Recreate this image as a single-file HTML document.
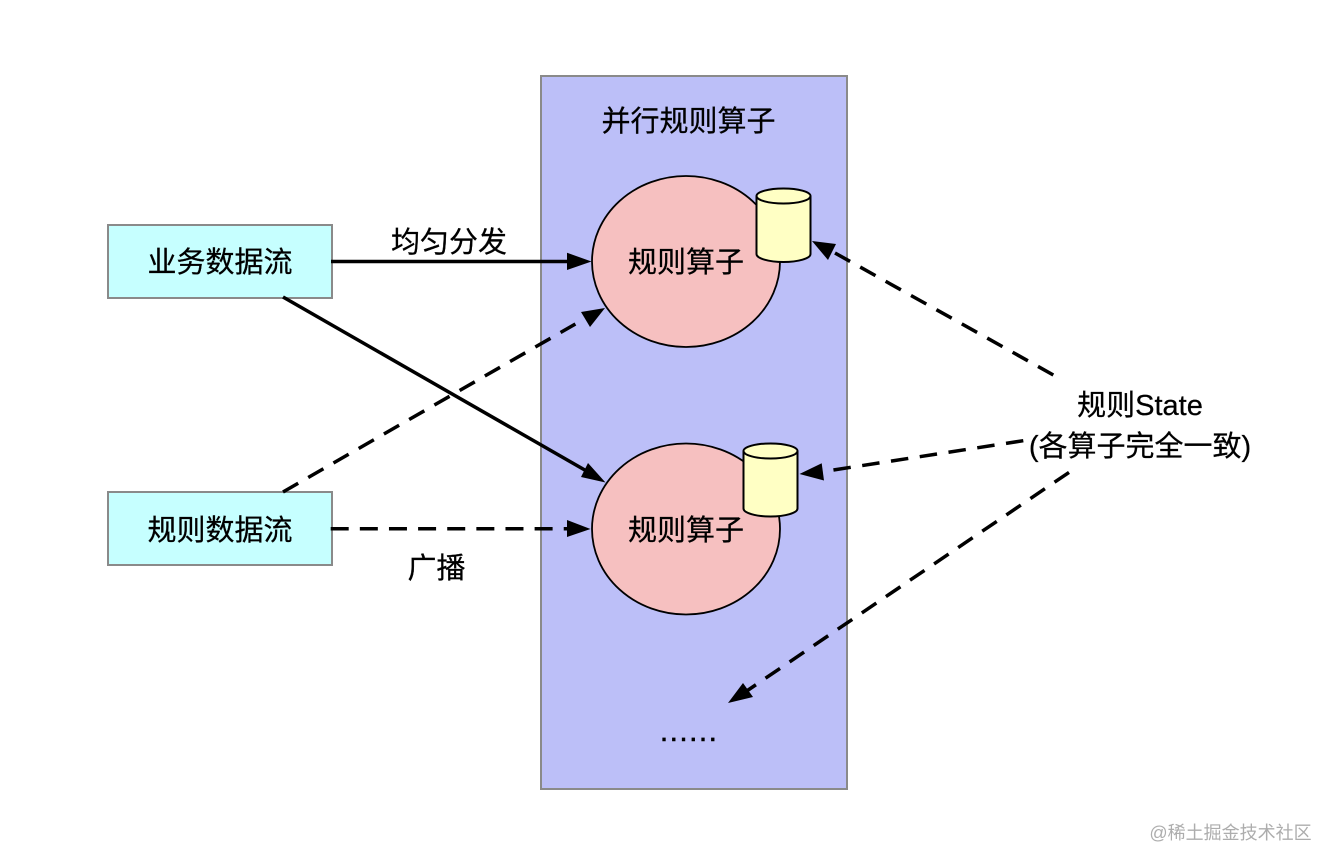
<!DOCTYPE html>
<html lang="zh">
<head>
<meta charset="utf-8">
<title>并行规则算子</title>
<style>
html,body{margin:0;padding:0;background:#fff;width:1334px;height:866px;overflow:hidden}
svg{display:block;filter:blur(0.35px)}
text{font-family:"Liberation Sans","Noto Sans CJK SC",sans-serif;font-size:29px;fill:#000;stroke:#000;stroke-width:0.25px;text-anchor:middle}
</style>
</head>
<body>
<svg width="1334" height="866" viewBox="0 0 1334 866" xmlns="http://www.w3.org/2000/svg">
<rect width="1334" height="866" fill="#fff"/>
<rect x="541" y="76" width="306" height="713" fill="#bcbff8" stroke="#8a8a8a" stroke-width="2"/>
<rect x="108" y="225" width="224" height="73" fill="#c6ffff" stroke="#8a8a8a" stroke-width="2"/>
<rect x="108" y="492" width="224" height="73" fill="#c6ffff" stroke="#8a8a8a" stroke-width="2"/>

<ellipse cx="686" cy="261.500" rx="94" ry="85.500" fill="#f6c0c0" stroke="#000" stroke-width="1.800"/>
<ellipse cx="686" cy="529" rx="94" ry="85.500" fill="#f6c0c0" stroke="#000" stroke-width="1.800"/>

<g fill="#ffffc4" stroke="#000" stroke-width="2">
<path d="M756.500 196V254C756.500 258.500 769 262 783.500 262S810.500 258.500 810.500 254V196"/>
<ellipse cx="783.500" cy="196" rx="27" ry="7.500"/>
<path d="M743.500 451V508.500C743.500 513 756 516.500 770.500 516.500S797.500 513 797.500 508.500V451"/>
<ellipse cx="770.500" cy="451" rx="27" ry="7.500"/>
</g>

<g fill="none" stroke="#000" stroke-width="3.500">
<line x1="331" y1="261.500" x2="570" y2="261.500"/>
<line x1="283" y1="297" x2="590" y2="473"/>
</g>
<g fill="none" stroke="#000" stroke-width="3.500" stroke-dasharray="17.500 11.600">
<line x1="283" y1="492" x2="575.400" y2="324"/>
<line x1="330.700" y1="528.800" x2="568" y2="528.800" stroke-dasharray="18 11.130"/>
<line x1="1053.300" y1="375" x2="835" y2="253"/>
<line x1="1023.300" y1="440.700" x2="833.300" y2="470"/>
<line x1="1069" y1="472.400" x2="746.700" y2="691"/>
</g>
<g fill="#000">
<polygon points="591.500,261.500 567,252.700 567,270"/>
<polygon points="605.500,482.500 581,477 588,463"/>
<polygon points="605,308 581,312 590,327"/>
<polygon points="590.500,529 567,520 567,537"/>
<polygon points="812,241 836,244 828,260"/>
<polygon points="799.500,474 821.700,463.300 824,480.500"/>
<polygon points="728,703 743,683 753,697"/>
</g>

<text x="688.500" y="131">并行规则算子</text>
<text x="220" y="272">业务数据流</text>
<text x="220" y="540">规则数据流</text>
<text x="449" y="252">均匀分发</text>
<text x="436.500" y="578">广播</text>
<text x="686" y="272">规则算子</text>
<text x="686" y="540">规则算子</text>
<text x="1140" y="415">规则State</text>
<text x="1140" y="456">(各算子完全一致)</text>
<text x="660" y="741" style="letter-spacing:1.700px;text-anchor:start;stroke-width:0.600px">......</text>
<text x="1230.500" y="839" style="font-size:18px;fill:#adadad;stroke:none">@稀土掘金技术社区</text>
</svg>
</body>
</html>
